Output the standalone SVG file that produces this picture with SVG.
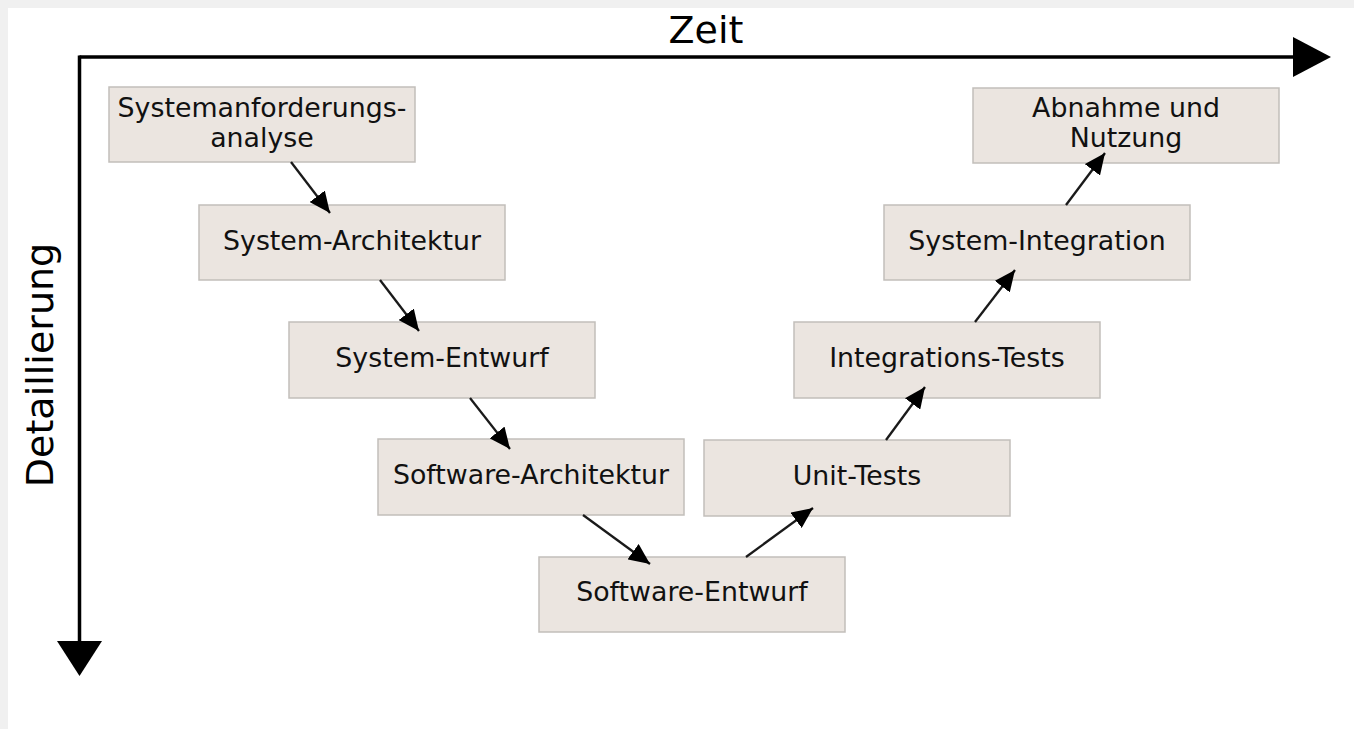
<svg xmlns="http://www.w3.org/2000/svg" width="1354" height="729" viewBox="0 0 1354 729">
<style>
.box{fill:#ebe5e0;stroke:#c2beba;stroke-width:1.5}
.lbl{font-family:"DejaVu Sans",Verdana,sans-serif;font-size:26.8px;fill:#111;text-anchor:middle}
.axlbl{font-family:"DejaVu Sans",Verdana,sans-serif;font-size:38px;fill:#000;text-anchor:middle}
.axis{stroke:#000;stroke-width:3.5;fill:none}
.con{stroke:#1a1a1a;stroke-width:2.3;fill:none;marker-end:url(#ah)}
</style>
<defs>
<marker id="ah" markerUnits="userSpaceOnUse" markerWidth="21" markerHeight="19" refX="21" refY="9.5" orient="auto">
<path d="M0,0 L21,9.5 L0,19 z" fill="#000"/>
</marker>
</defs>
<rect x="0" y="0" width="1354" height="729" fill="#f0f0f0"/>
<rect x="8" y="8" width="1346" height="721" fill="#fff"/>
<g id="axes">
<line class="axis" x1="79.5" y1="57" x2="1296" y2="57"/>
<polygon points="1293,37 1331,57 1293,77" fill="#000"/>
<line class="axis" x1="79.5" y1="55.5" x2="79.5" y2="643"/>
<polygon points="57,641 102,641 79.5,676" fill="#000"/>
<text class="axlbl" x="706" y="43">Zeit</text>
<text class="axlbl" transform="translate(53,365) rotate(-90)">Detaillierung</text>
</g>
<g id="n1"><rect class="box" x="109" y="87" width="306" height="75"/><text class="lbl" x="262" y="117">Systemanforderungs-</text><text class="lbl" x="262" y="147">analyse</text></g>
<g id="n2"><rect class="box" x="199" y="205" width="306" height="75"/><text class="lbl" x="352" y="250">System-Architektur</text></g>
<g id="n3"><rect class="box" x="289" y="322" width="306" height="76"/><text class="lbl" x="442" y="367">System-Entwurf</text></g>
<g id="n4"><rect class="box" x="378" y="439" width="306" height="76"/><text class="lbl" x="531" y="484">Software-Architektur</text></g>
<g id="n5"><rect class="box" x="539" y="557" width="306" height="75"/><text class="lbl" x="692" y="601">Software-Entwurf</text></g>
<g id="n6"><rect class="box" x="704" y="440" width="306" height="76"/><text class="lbl" x="857" y="485">Unit-Tests</text></g>
<g id="n7"><rect class="box" x="794" y="322" width="306" height="76"/><text class="lbl" x="947" y="367">Integrations-Tests</text></g>
<g id="n8"><rect class="box" x="884" y="205" width="306" height="75"/><text class="lbl" x="1037" y="250">System-Integration</text></g>
<g id="n9"><rect class="box" x="973" y="88" width="306" height="75"/><text class="lbl" x="1126" y="117">Abnahme und</text><text class="lbl" x="1126" y="147">Nutzung</text></g>
<g id="connectors">
<line class="con" x1="291" y1="162" x2="330" y2="213"/>
<line class="con" x1="380" y1="280" x2="419" y2="331"/>
<line class="con" x1="470" y1="398" x2="510" y2="449"/>
<line class="con" x1="583" y1="515" x2="650" y2="564"/>
<line class="con" x1="746" y1="557" x2="813" y2="508"/>
<line class="con" x1="886" y1="440" x2="925" y2="387"/>
<line class="con" x1="975" y1="322" x2="1015" y2="270"/>
<line class="con" x1="1066" y1="205" x2="1105" y2="153"/>
</g>
</svg>
